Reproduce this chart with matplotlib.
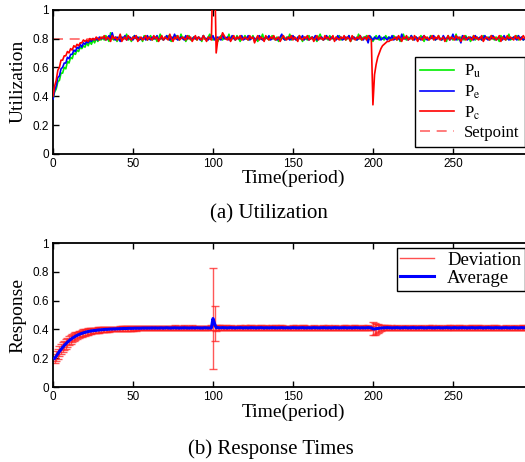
import matplotlib
matplotlib.use("Agg")
import matplotlib.pyplot as plt
import numpy as np

# utilization traces, in hundredths, one value per period (t = 0..300)
pu_start = [38, 43, 45, 50, 51, 56, 56, 60, 59, 64, 63, 67, 66, 70, 69, 72, 71, 74, 73, 75,
            74, 77, 75, 78, 76, 79, 77, 80, 78, 80, 79]
pu_rest = [
    81, 79, 82, 80, 78, 84, 80, 79, 81, 78, 80, 82, 79, 81, 80, 83, 79, 80, 78, 81, 82, 80, 79, 81, 80, 78, 82, 81, 79, 80,
    82, 79, 80, 81, 78, 80, 83, 80, 79, 81, 80, 82, 79, 78, 81, 80, 82, 80, 79, 83, 80, 81, 78, 80, 82, 79, 80, 81, 80, 79,
    81, 80, 78, 82, 80, 79, 81, 83, 80, 79, 80, 81, 78, 80, 82, 79, 81, 80, 80, 83, 79, 80, 81, 79, 82, 80, 78, 81, 80, 82,
    80, 79, 81, 80, 82, 79, 80, 78, 81, 80, 83, 79, 80, 81, 79, 80, 82, 80, 79, 81, 78, 80, 82, 80, 79, 81, 80, 83, 79, 80,
    81, 79, 80, 82, 80, 78, 81, 80, 79, 82, 80, 81, 79, 80, 78, 81, 83, 80, 79, 80, 81, 79, 82, 80, 80, 79, 81, 80, 82, 79,
    80, 81, 79, 80, 82, 78, 80, 81, 80, 79, 83, 80, 79, 81, 80, 82, 79, 80, 81, 78, 80, 82, 80, 79, 81, 80, 79, 82, 80, 81,
    79, 80, 82, 80, 79, 81, 78, 80, 83, 80, 79, 81, 80, 82, 79, 80, 81, 79, 80, 82, 80, 78, 81, 80, 79, 82, 80, 81, 79, 80,
    82, 80, 79, 81, 80, 78, 82, 80, 81, 79, 80, 83, 79, 80, 81, 80, 79, 82, 80, 81, 78, 80, 82, 79, 81, 80, 80, 79, 82, 80,
    80, 81, 79, 82, 80, 79, 81, 80, 78, 82, 80, 81, 79, 80, 83, 79, 80, 81, 80, 82, 79, 80, 81, 79, 80, 82, 80, 79, 81, 80,
]

pe_start = [38, 44, 47, 53, 54, 59, 60, 63, 63, 67, 66, 69, 69, 72, 71, 74, 73, 76, 74, 77,
            76, 78, 77, 79, 78, 80, 79, 80, 79, 81, 80]
pe_rest = [
    80, 81, 79, 80, 82, 80, 84, 80, 79, 81, 80, 78, 81, 80, 82, 79, 80, 81, 80, 79, 82, 80, 81, 79, 80, 80, 81, 79, 82, 80,
    79, 81, 80, 80, 82, 79, 80, 81, 79, 80, 82, 80, 79, 81, 80, 83, 80, 79, 80, 81, 80, 79, 82, 80, 81, 80, 79, 81, 80, 80,
    81, 79, 80, 82, 80, 80, 79, 81, 80, 82, 79, 80, 81, 80, 79, 83, 80, 80, 81, 79, 80, 82, 80, 79, 81, 80, 80, 82, 79, 80,
    80, 82, 79, 80, 81, 80, 79, 81, 82, 80, 79, 80, 81, 80, 82, 79, 80, 81, 80, 79, 80, 81, 83, 80, 79, 80, 81, 79, 80, 82,
    80, 79, 81, 80, 80, 82, 79, 81, 80, 79, 80, 81, 80, 82, 79, 80, 80, 81, 79, 80, 82, 80, 79, 81, 80, 80, 79, 82, 80, 81,
    79, 80, 81, 80, 82, 79, 80, 81, 80, 79, 80, 82, 80, 79, 81, 80, 77, 82, 80, 79, 81, 80, 80, 82, 79, 80, 81, 80, 79, 81,
    80, 82, 79, 80, 81, 80, 79, 83, 80, 80, 81, 79, 80, 82, 80, 79, 81, 80, 80, 79, 81, 82, 80, 79, 80, 81, 80, 82, 79, 80,
    81, 80, 79, 82, 80, 80, 81, 79, 80, 83, 80, 79, 81, 80, 77, 82, 80, 81, 79, 80, 81, 80, 79, 82, 80, 80, 81, 79, 80, 82,
    80, 79, 81, 80, 82, 80, 79, 80, 81, 80, 79, 82, 80, 81, 79, 80, 80, 81, 80, 79, 82, 80, 81, 79, 80, 80, 81, 80, 79, 81,
]

pc_start = [40, 47, 51, 58, 60, 65, 65, 68, 68, 71, 70, 73, 72, 75, 74, 76, 75, 77, 77, 79,
            78, 79, 78, 80, 79, 80, 79, 81, 80, 79, 81]
pc_rest = [
    80, 82, 79, 81, 80, 78, 82, 80, 81, 79, 80, 83, 78, 80, 81, 79, 82, 80, 79, 81, 80, 82, 78, 80, 81, 79, 80, 82, 79, 81,
    80, 79, 82, 80, 81, 78, 80, 82, 79, 81, 80, 79, 83, 80, 78, 81, 80, 82, 79, 80, 81, 80, 79, 82, 80, 81, 78, 80, 82, 79,
    81, 80, 79, 82, 80, 78, 81, 80, 79, 130, 130, 70, 79, 81, 80, 84, 82, 80, 79, 81, 78, 80, 82, 79, 81, 80, 82, 79, 80, 81,
    80, 79, 82, 80, 81, 77, 80, 82, 79, 81, 80, 78, 82, 80, 79, 81, 80, 82, 79, 80, 81, 78, 80, 82, 80, 79, 81, 80, 82, 79,
    81, 80, 78, 82, 80, 79, 81, 80, 82, 79, 80, 81, 78, 80, 82, 79, 81, 80, 79, 82, 80, 81, 79, 80, 82, 78, 81, 80, 79, 81,
    80, 82, 79, 81, 80, 78, 82, 80, 79, 81, 80, 82, 79, 80, 81, 79, 82, 80, 79, 34, 55, 62, 67, 70, 73, 75, 76, 77, 78, 78,
    79, 79, 80, 81, 79, 82, 80, 78, 81, 80, 82, 79, 80, 81, 79, 82, 80, 78, 81, 80, 79, 82, 80, 81, 79, 80, 82, 79, 81, 80,
    82, 79, 80, 81, 78, 80, 82, 79, 81, 80, 79, 82, 80, 81, 78, 80, 82, 79, 80, 81, 80, 79, 82, 80, 81, 79, 80, 82, 78, 80,
    81, 80, 79, 82, 80, 81, 79, 80, 82, 78, 81, 80, 79, 82, 80, 81, 80, 79, 82, 80, 81, 79, 80, 82, 80, 79, 81, 80, 82, 80,
]
setpoint = 0.8

# response times, in thousandths, one value per period (t = 1..300)
avg_start = [200, 215, 232, 248, 262, 276, 289, 301, 312, 322, 331, 339, 346, 353, 359, 364, 369, 373, 377, 380,
             383, 386, 388, 390, 392, 393, 394, 396, 397, 398, 399, 400, 401, 401, 402, 403, 403, 404, 404, 405]
avg_rest = [
    405, 406, 406, 407, 407, 407, 408, 408, 408, 408, 409, 409, 409, 409, 409, 410, 410, 410, 410, 410,
    410, 411, 410, 411, 410, 410, 411, 411, 410, 411, 412, 411, 410, 411, 411, 412, 411, 411, 410, 411,
    411, 412, 411, 411, 410, 411, 412, 411, 411, 412, 411, 411, 410, 411, 412, 411, 411, 410, 411, 476,
    440, 412, 413, 412, 412, 413, 412, 412, 411, 412, 413, 412, 412, 411, 412, 412, 413, 412, 411, 412,
    412, 411, 412, 413, 412, 412, 411, 412, 412, 413, 412, 411, 412, 412, 411, 412, 413, 412, 412, 411,
    412, 412, 413, 412, 411, 412, 412, 411, 412, 413, 412, 412, 411, 412, 412, 413, 412, 411, 412, 412,
    411, 412, 413, 412, 412, 411, 412, 412, 413, 412, 411, 412, 412, 411, 412, 413, 412, 412, 411, 412,
    412, 413, 412, 411, 412, 412, 411, 412, 413, 412, 412, 411, 412, 412, 411, 412, 413, 412, 411, 405,
    404, 406, 407, 409, 410, 411, 412, 412, 413, 412, 412, 411, 412, 412, 413, 412, 411, 412, 412, 413,
    412, 411, 412, 412, 413, 412, 411, 412, 412, 413, 412, 412, 411, 412, 413, 412, 412, 411, 412, 412,
    413, 412, 411, 412, 412, 413, 412, 412, 411, 412, 413, 412, 411, 412, 412, 413, 412, 412, 411, 412,
    412, 413, 412, 411, 412, 412, 413, 412, 411, 412, 412, 413, 412, 412, 411, 412, 413, 412, 412, 411,
    412, 412, 413, 412, 411, 412, 412, 413, 412, 412, 411, 412, 413, 412, 412, 411, 412, 413, 412, 412,
]
dev_start = [32, 34, 35, 35, 35, 34, 34, 33, 32, 31, 30, 29, 28, 27, 26, 25, 24, 23, 23, 22,
             21, 21, 20, 20, 19, 19, 18, 18, 18, 17, 17, 17, 17, 16, 16, 16, 16, 16, 16, 15]
dev_rest = [
    15, 15, 16, 15, 15, 15, 16, 15, 15, 15, 15, 16, 15, 15, 15, 15, 15, 16, 15, 15,
    15, 15, 15, 16, 15, 15, 15, 15, 15, 16, 15, 15, 15, 15, 15, 16, 15, 15, 15, 15,
    15, 16, 15, 15, 15, 15, 16, 15, 15, 15, 15, 15, 16, 15, 15, 15, 15, 15, 17, 350,
    120, 22, 17, 16, 15, 15, 15, 16, 15, 15, 15, 15, 15, 16, 15, 15, 15, 15, 15, 16,
    15, 15, 16, 15, 15, 15, 15, 16, 15, 15, 15, 15, 16, 15, 15, 15, 15, 15, 16, 15,
    15, 16, 15, 15, 15, 15, 15, 16, 15, 15, 15, 16, 15, 15, 15, 15, 16, 15, 15, 15,
    16, 15, 15, 15, 15, 16, 15, 15, 15, 15, 15, 16, 15, 15, 15, 16, 15, 15, 15, 15,
    15, 15, 16, 15, 15, 15, 15, 16, 15, 15, 15, 15, 15, 16, 15, 15, 15, 15, 16, 45,
    40, 35, 29, 24, 20, 17, 16, 15, 15, 15, 16, 15, 15, 15, 15, 15, 16, 15, 15, 15,
    15, 16, 15, 15, 15, 15, 16, 15, 15, 15, 15, 15, 16, 15, 15, 15, 16, 15, 15, 15,
    15, 15, 16, 15, 15, 15, 15, 16, 15, 15, 15, 15, 15, 16, 15, 15, 15, 15, 16, 15,
    16, 15, 15, 15, 15, 16, 15, 15, 15, 15, 15, 16, 15, 15, 15, 16, 15, 15, 15, 15,
    15, 15, 16, 15, 15, 15, 15, 16, 15, 15, 15, 15, 15, 16, 15, 15, 15, 15, 16, 15,
]

pu = np.array(pu_start + pu_rest) / 100
pe = np.array(pe_start + pe_rest) / 100
pc = np.array(pc_start + pc_rest) / 100
t_util = np.arange(len(pu))

avg = np.array(avg_start + avg_rest) / 1000
dev = np.array(dev_start + dev_rest) / 1000
t_resp = np.arange(1, len(avg) + 1)

serif = ["Liberation Serif", "DejaVu Serif"]
plt.rcParams["font.family"] = ["Liberation Sans", "DejaVu Sans"]
plt.rcParams["mathtext.fontset"] = "stix"

fig = plt.figure(figsize=(5.25, 4.62), dpi=100)
ax1 = fig.add_axes([0.101, 0.667, 0.914, 0.312])
ax2 = fig.add_axes([0.101, 0.162, 0.914, 0.312])

# (a) utilization
ax1.axhline(setpoint, color="#ff4040", ls=(0, (6, 4)), lw=1.2, alpha=0.8, zorder=1, label="Setpoint")
ax1.plot(t_util, pu, color="#00ee00", lw=1.2, label=r"P$_\mathrm{u}$", zorder=2)
ax1.plot(t_util, pe, color="#0000ff", lw=1.2, label=r"P$_\mathrm{e}$", zorder=3)
ax1.plot(t_util, pc, color="#ff0000", lw=1.2, label=r"P$_\mathrm{c}$", zorder=4)
ax1.set_ylabel("Utilization", family=serif, fontsize=14, labelpad=4)

h, l = ax1.get_legend_handles_labels()
order = [1, 2, 3, 0]
ax1.legend([h[i] for i in order], [l[i] for i in order], loc="upper right",
           bbox_to_anchor=(1.0, 0.877), bbox_transform=fig.transFigure, borderaxespad=0,
           prop={"family": serif, "size": 12}, fancybox=False, edgecolor="black",
           framealpha=1, handlelength=2.0, handletextpad=0.6, labelspacing=0.2,
           borderpad=0.35)

# (b) response times
ax2.errorbar(t_resp, avg, yerr=dev, fmt="none", ecolor="#ff2020", elinewidth=1,
             capsize=3, capthick=1, alpha=0.75, zorder=2)
ax2.plot(t_resp, avg, color="#0000ff", lw=2.2, zorder=3)
ax2.plot([], [], color="#ff5050", lw=1, label="Deviation")
ax2.plot([], [], color="#0000ff", lw=2.2, label="Average")
ax2.set_ylabel("Response", family=serif, fontsize=14, labelpad=4)
ax2.legend(loc="upper right", bbox_to_anchor=(1.0, 0.463), bbox_transform=fig.transFigure,
           borderaxespad=0, prop={"family": serif, "size": 13.5}, fancybox=False,
           edgecolor="black", framealpha=1, handlelength=1.8, handletextpad=0.7,
           labelspacing=0.05, borderpad=0.2)

for ax in (ax1, ax2):
    ax.set_xlim(0, 300)
    ax.set_ylim(0, 1)
    ax.set_xticks([0, 50, 100, 150, 200, 250])
    ax.set_yticks([0, 0.2, 0.4, 0.6, 0.8, 1])
    ax.set_yticklabels(["0", "0.2", "0.4", "0.6", "0.8", "1"])
    ax.tick_params(direction="in", top=True, right=True, labelsize=8.5, length=4, width=1, pad=3)
    for s in ax.spines.values():
        s.set_linewidth(1.3)
    ax.set_xlabel("Time(period)", family=serif, fontsize=14, labelpad=0)

fig.text(0.513, 0.537, "(a) Utilization", family=serif, fontsize=15, ha="center", va="center")
fig.text(0.515, 0.028, "(b) Response Times", family=serif, fontsize=15, ha="center", va="center")

fig.savefig("out.png", dpi=100)
